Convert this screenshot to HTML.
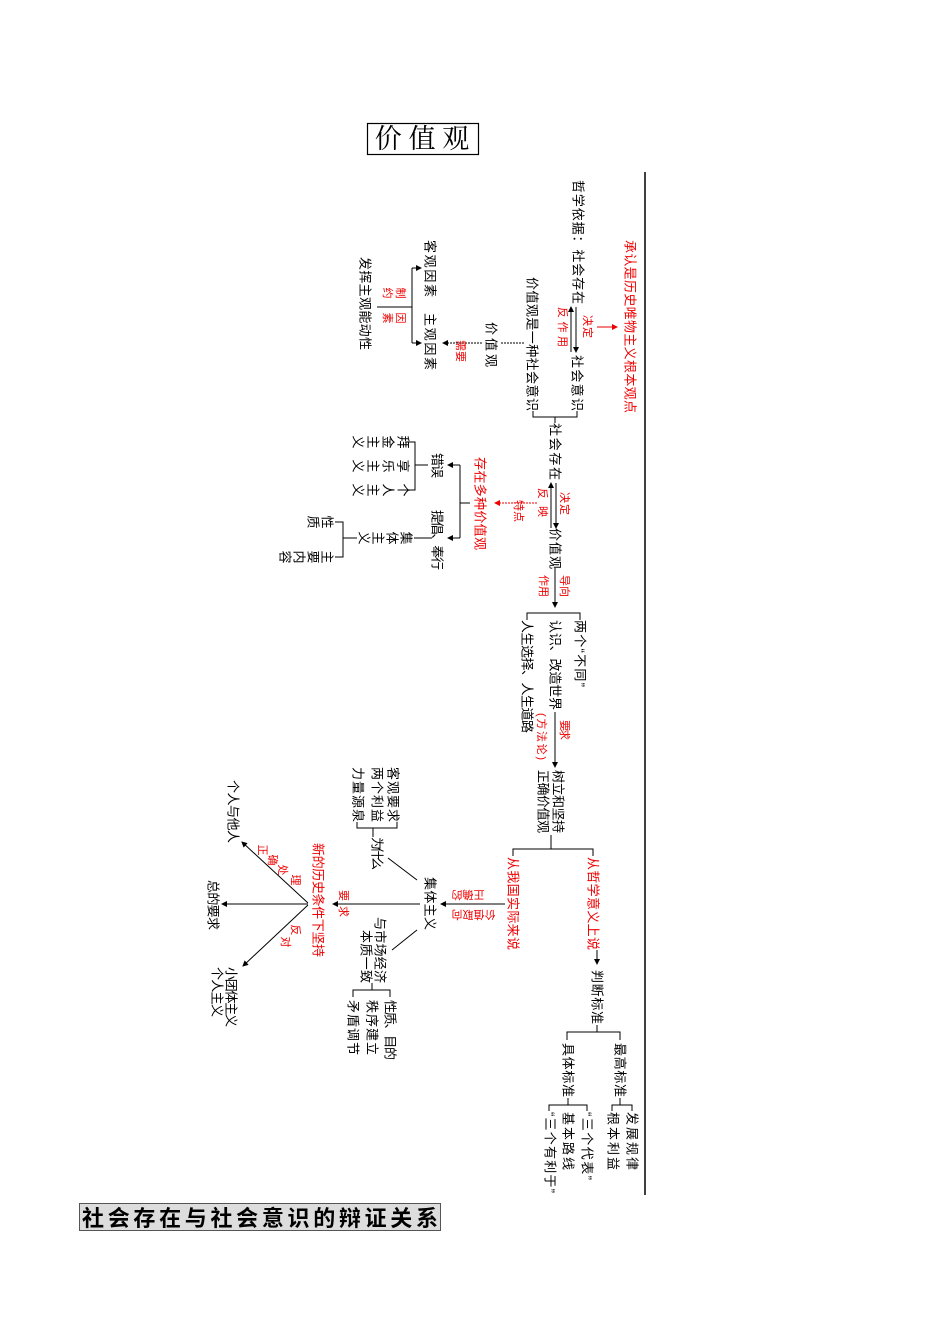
<!DOCTYPE html>
<html><head><meta charset="utf-8"><style>
html,body{margin:0;padding:0;background:#fff;}
svg{display:block;}
text{font-family:"Liberation Sans","Noto Sans CJK SC",sans-serif;font-size:13px;fill:#000;}
.r{fill:#e00;}
.s{font-size:11px;}
</style></head><body>
<svg width="950" height="1342" viewBox="0 0 950 1342" xmlns="http://www.w3.org/2000/svg">
<defs>
<marker id="a" markerWidth="6" markerHeight="6" refX="5" refY="3" orient="auto" markerUnits="userSpaceOnUse"><path d="M0,0 L6,3 L0,6 z" fill="#000"/></marker>
<marker id="ar" markerWidth="6" markerHeight="6" refX="5" refY="3" orient="auto" markerUnits="userSpaceOnUse"><path d="M0,0 L6,3 L0,6 z" fill="#e00"/></marker>
</defs>

<rect x="367.5" y="123.5" width="111" height="31" fill="#fff" stroke="#000" stroke-width="1.2"/>
<text x="422" y="148" text-anchor="middle" style="font-family:'Liberation Serif','Noto Serif CJK SC',serif;font-size:27px;">价 值 观</text>

<rect x="79.5" y="1203.5" width="361" height="27" fill="#ddd" stroke="#555" stroke-width="1"/>
<text x="260" y="1226" text-anchor="middle" textLength="356" style="font-size:22px;font-weight:bold;">社会存在与社会意识的辩证关系</text>

<line x1="645" y1="172" x2="645" y2="1195" stroke="#000" stroke-width="1.5"/>

<g stroke="#000" stroke-width="1" fill="none">
<line x1="597" y1="327" x2="617" y2="327" stroke="#e00" marker-end="url(#ar)"/>
<line x1="576" y1="307" x2="576" y2="352" marker-end="url(#a)"/>
<line x1="571" y1="352" x2="571" y2="307" marker-end="url(#a)"/>
<path d="M577,411 V417 H533 V411"/>
<line x1="555" y1="417" x2="555" y2="423"/>
<line x1="524" y1="343" x2="500" y2="343" stroke-dasharray="2,1"/>
<line x1="482" y1="343" x2="443" y2="343" stroke-dasharray="2,1" marker-end="url(#a)"/>
<line x1="412" y1="268" x2="412" y2="343"/>
<line x1="412" y1="268" x2="421" y2="268" marker-end="url(#a)"/>
<line x1="412" y1="343" x2="421" y2="343" marker-end="url(#a)"/>
<line x1="377" y1="307" x2="412" y2="307"/>

<line x1="556" y1="483" x2="556" y2="528" marker-end="url(#a)"/>
<line x1="551" y1="528" x2="551" y2="483" marker-end="url(#a)"/>
<line x1="537" y1="503" x2="495" y2="503" stroke="#e00" stroke-dasharray="2,1" marker-end="url(#ar)"/>
<line x1="470" y1="503" x2="460" y2="503"/>
<line x1="460" y1="465" x2="460" y2="538"/>
<line x1="460" y1="465" x2="448" y2="465" marker-end="url(#a)"/>
<line x1="460" y1="538" x2="448" y2="538" marker-end="url(#a)"/>
<line x1="428" y1="465" x2="415" y2="465"/>
<path d="M405,442 H415 V490 H405"/>
<line x1="432" y1="538" x2="414" y2="538"/>
<line x1="357" y1="538" x2="343" y2="538"/>
<path d="M335,522 H343 V557 H335"/>

<line x1="555" y1="568" x2="555" y2="607" marker-end="url(#a)"/>
<path d="M580,620 V613 H527 V620"/>
<line x1="555" y1="712" x2="555" y2="767" marker-end="url(#a)"/>

<line x1="551" y1="835" x2="551" y2="849"/>
<path d="M513,856 V849 H593 V856"/>
<line x1="597" y1="950" x2="597" y2="964" marker-end="url(#a)"/>
<line x1="505" y1="904" x2="441" y2="904" marker-end="url(#a)"/>

<line x1="417" y1="880" x2="388" y2="858"/>
<line x1="373" y1="828" x2="373" y2="837"/>
<path d="M397,822 V828 H357 V822"/>
<line x1="417" y1="930" x2="392" y2="950"/>
<line x1="372" y1="983" x2="372" y2="990"/>
<path d="M390,997 V990 H353 V997"/>
<line x1="420" y1="904" x2="333" y2="904" marker-end="url(#a)"/>

<line x1="308" y1="903" x2="242" y2="842" marker-end="url(#a)"/>
<line x1="308" y1="904" x2="222" y2="904" marker-end="url(#a)"/>
<line x1="308" y1="905" x2="243" y2="966" marker-end="url(#a)"/>

<line x1="597" y1="1025" x2="597" y2="1032"/>
<path d="M567,1040 V1032 H620 V1040"/>
<line x1="620" y1="1098" x2="620" y2="1105"/>
<path d="M612,1111 V1105 H632 V1111"/>
<line x1="568" y1="1098" x2="568" y2="1105"/>
<path d="M549,1111 V1105 H587 V1111"/>
</g>

<g dominant-baseline="central">
<text class="r" transform="translate(630,240) rotate(90)" textLength="173">承认是历史唯物主义根本观点</text>
<text transform="translate(578,180) rotate(90)" textLength="124">哲学依据：社会存在</text>
<text class="r s" transform="translate(587,315) rotate(90)" textLength="23">决定</text>
<text class="r s" transform="translate(562,307) rotate(90)" textLength="40">反作用</text>
<text transform="translate(577,355) rotate(90)" textLength="56">社会意识</text>
<text transform="translate(532,277) rotate(90)" textLength="134">价值观是一种社会意识</text>
<text transform="translate(491,322) rotate(90)" textLength="45">价值观</text>
<text class="r s" transform="translate(460,340) rotate(90)" textLength="22">需要</text>
<text transform="translate(430,240) rotate(90)" textLength="57">客观因素</text>
<text transform="translate(430,313) rotate(90)" textLength="57">主观因素</text>
<text transform="translate(365,257) rotate(90)" textLength="93">发挥主观能动性</text>

<text transform="translate(555,423) rotate(90)" textLength="57">社会存在</text>
<text class="r s" transform="translate(564,492) rotate(90)" textLength="23">决定</text>
<text class="r s" transform="translate(542,488) rotate(90)" textLength="29">反映</text>
<text transform="translate(555,528) rotate(90)" textLength="41">价值观</text>
<text class="r s" transform="translate(518,500) rotate(90)" textLength="22">特点</text>
<text class="r" transform="translate(480,457) rotate(90)" textLength="93">存在多种价值观</text>
<text transform="translate(437,453) rotate(90)" textLength="25">错误</text>
<text transform="translate(437,510) rotate(90)" textLength="60">提倡、奉行</text>

<text transform="translate(580,620) rotate(90)" textLength="67">两个“不同”</text>
<text class="r s" transform="translate(564,575) rotate(90)" textLength="22">导向</text>
<text class="r s" transform="translate(543,575) rotate(90)" textLength="22">作用</text>
<text transform="translate(555,620) rotate(90)" textLength="90">认识、改造世界</text>
<text transform="translate(527,620) rotate(90)" textLength="113">人生选择、人生道路</text>
<text class="r s" transform="translate(564,720) rotate(90)" textLength="20">要求</text>
<text class="r s" transform="translate(541,713) rotate(90)" textLength="47">(方法论)</text>

<text transform="translate(558,770) rotate(90)" textLength="63">树立和坚持</text>
<text transform="translate(543,770) rotate(90)" textLength="63">正确价值观</text>
<text class="r" transform="translate(593,857) rotate(90)" textLength="93">从哲学意义上说</text>
<text transform="translate(597,970) rotate(90)" textLength="54">判断标准</text>
<text class="r" transform="translate(513,857) rotate(90)" textLength="93">从我国实际来说</text>
<text transform="translate(430,877) rotate(90)" textLength="53">集体主义</text>
<text transform="translate(377,837) rotate(90)" textLength="33">为什么</text>
<text transform="translate(393,767) rotate(90)" textLength="55">客观要求</text>
<text transform="translate(377,767) rotate(90)" textLength="55">两个利益</text>
<text transform="translate(358,767) rotate(90)" textLength="55">力量源泉</text>
<text transform="translate(380,917) rotate(90)" textLength="66">与市场经济</text>
<text transform="translate(366,930) rotate(90)" textLength="53">本质一致</text>
<text transform="translate(390,1000) rotate(90)" textLength="60">性质、目的</text>
<text transform="translate(372,1000) rotate(90)" textLength="55">秩序建立</text>
<text transform="translate(353,1000) rotate(90)" textLength="55">矛盾调节</text>
<text class="r s" transform="translate(343,890) rotate(90)" textLength="27">要求</text>
<text class="r" transform="translate(318,843) rotate(90)" textLength="114">新的历史条件下坚持</text>
<text transform="translate(233,780) rotate(90)" textLength="63">个人与他人</text>
<text transform="translate(213,880) rotate(90)" textLength="50">总的要求</text>
<text transform="translate(231,967) rotate(90)" textLength="60">小团体主义</text>
<text transform="translate(217,967) rotate(90)" textLength="50">个人主义</text>

<text transform="translate(620,1043) rotate(90)" textLength="54">最高标准</text>
<text transform="translate(568,1043) rotate(90)" textLength="54">具体标准</text>
<text transform="translate(632,1112) rotate(90)" textLength="58">发展规律</text>
<text transform="translate(613,1112) rotate(90)" textLength="58">根本利益</text>
<text transform="translate(587,1112) rotate(90)" textLength="68">“三个代表”</text>
<text transform="translate(568,1112) rotate(90)" textLength="58">基本路线</text>
<text transform="translate(550,1112) rotate(90)" textLength="81">“三个有利于”</text>
</g>

<g text-anchor="middle" dominant-baseline="central">
<text class="r s" transform="translate(400,293) rotate(90)">制</text>
<text class="r s" transform="translate(400,318) rotate(90)">因</text>
<text class="r s" transform="translate(387,293) rotate(90)">约</text>
<text class="r s" transform="translate(387,318) rotate(90)">素</text>

<text transform="translate(403,442) rotate(90)">拜</text><text transform="translate(388,442) rotate(90)">金</text><text transform="translate(373,442) rotate(90)">主</text><text transform="translate(358,442) rotate(90)">义</text>
<text transform="translate(403,466) rotate(90)">享</text><text transform="translate(388,466) rotate(90)">乐</text><text transform="translate(373,466) rotate(90)">主</text><text transform="translate(358,466) rotate(90)">义</text>
<text transform="translate(403,490) rotate(90)">个</text><text transform="translate(388,490) rotate(90)">人</text><text transform="translate(373,490) rotate(90)">主</text><text transform="translate(358,490) rotate(90)">义</text>

<text transform="translate(406,538) rotate(90)">集</text><text transform="translate(392,538) rotate(90)">体</text><text transform="translate(378,538) rotate(90)">主</text><text transform="translate(364,538) rotate(90)">义</text>
<text transform="translate(327,522) rotate(90)">性</text><text transform="translate(313,522) rotate(90)">质</text>
<text transform="translate(327,557) rotate(90)">主</text><text transform="translate(313,557) rotate(90)">要</text><text transform="translate(299,557) rotate(90)">内</text><text transform="translate(285,557) rotate(90)">容</text>

<text class="r s" transform="translate(479,894) rotate(180)">正</text><text class="r s" transform="translate(468,894) rotate(180)">确</text><text class="r s" transform="translate(457,894) rotate(180)">的</text>
<text class="r s" transform="translate(490,914) rotate(180)">价</text><text class="r s" transform="translate(479,914) rotate(180)">值</text><text class="r s" transform="translate(468,914) rotate(180)">取</text><text class="r s" transform="translate(457,914) rotate(180)">向</text>

<text class="r s" transform="translate(262,850) rotate(90)">正</text>
<text class="r s" transform="translate(272,860) rotate(90)">确</text>
<text class="r s" transform="translate(282,870) rotate(90)">处</text>
<text class="r s" transform="translate(295,880) rotate(90)">理</text>
<text class="r s" transform="translate(295,930) rotate(90)">反</text>
<text class="r s" transform="translate(285,942) rotate(90)">对</text>
</g>
</svg>
</body></html>
